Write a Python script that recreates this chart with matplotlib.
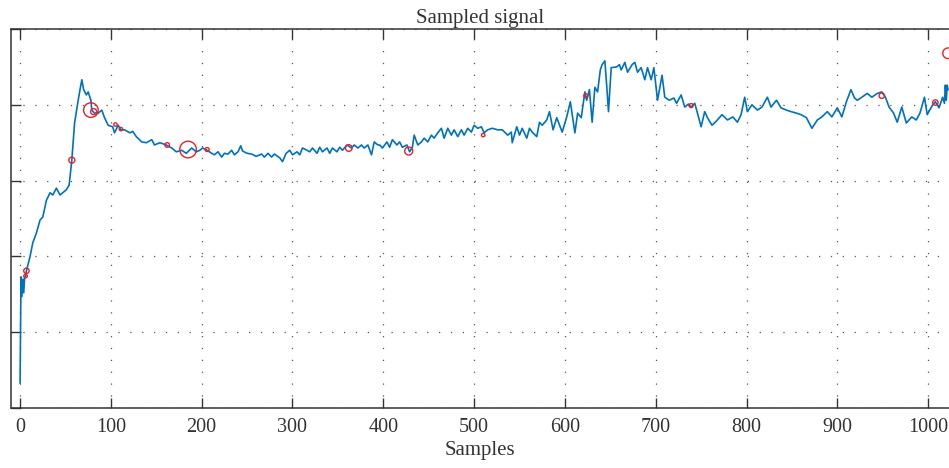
import numpy as np
import matplotlib.pyplot as plt

# sampled signal, sample index / amplitude, in three stretches
head_idx = [0, 1, 2, 3, 4, 5, 6, 7, 11, 14, 18, 22, 25, 29, 33, 36, 40, 44, 47, 51, 54,
            57, 60, 64, 66, 68, 70, 73, 75, 78, 79, 82, 86, 90, 93, 97, 102, 104, 108, 111,
            115, 121, 124, 128, 134, 139, 145, 148, 154, 161, 167, 172, 178, 183, 189, 194]
head_val = [0.33, 1.73, 1.47, 1.70, 1.52, 1.72, 1.74, 1.81, 2.00, 2.18, 2.31, 2.48, 2.52,
            2.74, 2.84, 2.81, 2.90, 2.81, 2.84, 2.88, 2.94, 3.27, 3.76, 4.06, 4.20, 4.33,
            4.20, 4.13, 4.17, 4.06, 3.93, 3.89, 3.89, 3.93, 3.83, 3.73, 3.71, 3.63, 3.73,
            3.67, 3.67, 3.63, 3.65, 3.58, 3.51, 3.50, 3.54, 3.47, 3.50, 3.47, 3.43, 3.38,
            3.40, 3.36, 3.43, 3.38]

mid_idx = [198, 201, 206, 211, 214, 218, 222, 225, 229, 233,
           236, 240, 243, 245, 250, 255, 260, 266, 269, 273,
           277, 280, 286, 289, 293, 297, 300, 305, 308, 311,
           316, 319, 322, 327, 330, 333, 338, 341, 344, 349,
           352, 355, 360, 365, 368, 372, 376, 379, 383, 387,
           390, 394, 396, 399, 404, 407, 410, 415, 418, 421,
           426, 429, 432, 434, 438, 442, 445, 449, 453, 456,
           460, 464, 467, 471, 475, 478, 482, 486, 489, 493,
           497, 500, 504, 508, 511, 515, 520, 526, 531, 537,
           541, 542, 547, 550, 553, 558, 561, 564, 569, 572,
           575, 580, 583, 587, 591]
mid_val = [3.40, 3.43, 3.40, 3.36, 3.34, 3.38, 3.31, 3.36, 3.35, 3.40,
           3.34, 3.38, 3.46, 3.39, 3.36, 3.35, 3.32, 3.35, 3.31, 3.36,
           3.31, 3.35, 3.30, 3.25, 3.36, 3.40, 3.34, 3.38, 3.34, 3.43,
           3.40, 3.38, 3.43, 3.36, 3.44, 3.38, 3.43, 3.36, 3.43, 3.38,
           3.44, 3.40, 3.47, 3.43, 3.47, 3.43, 3.47, 3.43, 3.47, 3.34,
           3.51, 3.47, 3.47, 3.43, 3.51, 3.44, 3.54, 3.47, 3.51, 3.44,
           3.47, 3.38, 3.44, 3.60, 3.47, 3.51, 3.56, 3.51, 3.60, 3.56,
           3.63, 3.69, 3.56, 3.69, 3.60, 3.67, 3.58, 3.67, 3.60, 3.69,
           3.64, 3.73, 3.69, 3.71, 3.63, 3.67, 3.69, 3.67, 3.67, 3.60,
           3.64, 3.50, 3.71, 3.60, 3.69, 3.56, 3.69, 3.64, 3.58, 3.77,
           3.73, 3.80, 3.91, 3.67, 3.83]

tail_idx = [597, 602, 606, 611, 614, 618, 622, 624, 627, 630,
            633, 636, 639, 641, 644, 646, 648, 651, 657, 660,
            662, 666, 669, 674, 677, 680, 684, 688, 691, 695,
            698, 702, 707, 710, 715, 720, 723, 728, 732, 736,
            739, 743, 746, 750, 754, 757, 762, 768, 773, 779,
            785, 790, 794, 798, 801, 806, 812, 817, 823, 827,
            833, 838, 844, 849, 855, 860, 866, 872, 878, 883,
            889, 894, 900, 905, 910, 915, 919, 922, 927, 933,
            938, 944, 949, 953, 957, 962, 966, 971, 976, 982,
            987, 991, 996, 999, 1005, 1008, 1012, 1016, 1018, 1019,
            1020, 1021, 1022]
tail_val = [3.64, 3.84, 4.04, 3.63, 3.89, 3.83, 4.17, 4.06, 4.20, 3.77,
            4.23, 4.17, 4.46, 4.53, 4.58, 4.26, 3.91, 4.49, 4.50, 4.53,
            4.46, 4.56, 4.43, 4.53, 4.56, 4.43, 4.49, 4.33, 4.49, 4.33,
            4.49, 4.06, 4.39, 4.10, 4.06, 4.09, 4.02, 4.13, 3.97, 4.01,
            3.97, 4.02, 3.89, 3.71, 3.91, 3.83, 3.73, 3.80, 3.87, 3.80,
            3.84, 3.77, 3.87, 4.10, 3.91, 4.00, 3.93, 3.97, 4.10, 3.97,
            4.06, 3.96, 3.93, 3.91, 3.89, 3.87, 3.83, 3.69, 3.80, 3.84,
            3.91, 3.84, 3.96, 3.84, 4.04, 4.20, 4.09, 4.06, 4.10, 4.15,
            4.10, 4.15, 4.17, 4.10, 3.97, 3.89, 3.77, 3.97, 3.76, 3.84,
            3.80, 3.89, 4.10, 3.87, 4.00, 4.04, 3.96, 4.10, 4.02, 4.26,
            4.06, 4.26, 4.20]

# red circles: position, amplitude, radius (px)
circle_idx = [6, 7, 57, 78, 81, 105, 111, 162, 185, 206, 362, 428, 510, 623, 739, 949, 1008, 1022]
circle_val = [1.74, 1.81, 3.27, 3.93, 3.91, 3.74, 3.68, 3.47, 3.41, 3.41, 3.43, 3.39, 3.60,
              4.12, 3.99, 4.12, 4.03, 4.68]
circle_r = [1.8, 2.7, 3.0, 7.3, 3.0, 1.7, 1.7, 2.3, 8.3, 2.0, 3.3, 4.0, 1.7, 2.0, 2.0, 2.7, 2.7, 5.3]

x_ticks = [0, 100, 200, 300, 400, 500, 600, 700, 800, 900, 1000]
y_ticks = [0, 1, 2, 3, 4, 5]

samples = head_idx + mid_idx + tail_idx
signal = head_val + mid_val + tail_val

plt.rcParams["font.family"] = ["Liberation Serif", "DejaVu Serif"]
ink = "#333333"

fig = plt.figure(figsize=(9.49, 4.68), dpi=100)
ax = fig.add_axes([11 / 949, 60 / 468, 1 - 11 / 949, 379 / 468])

ax.plot(samples, signal, color="#0072BD", linewidth=1.2, zorder=3)
sizes = [(2 * r * 0.72) ** 2 for r in circle_r]
ax.scatter(circle_idx, circle_val, s=sizes, facecolors="none", edgecolors="#E8202A",
           linewidths=1.0, zorder=4, clip_on=False)

ax.set_xlim(-10, 1023)
ax.set_ylim(0, 5)
ax.set_xticks(x_ticks)
ax.set_yticks(y_ticks)
ax.tick_params(axis="x", direction="in", top=True, length=7, width=1, colors=ink,
               labelsize=14.5, pad=7)
ax.tick_params(axis="y", direction="in", length=7, width=1, colors=ink, labelleft=False)
ax.grid(True, color="#555555", linestyle=(0, (1, 8.5)), linewidth=0.9)

for side in ["left", "top", "bottom"]:
    ax.spines[side].set_color(ink)
    ax.spines[side].set_linewidth(1.1)
ax.spines["right"].set_visible(False)

ax.set_title("Sampled signal", fontsize=15, color=ink, pad=4)
ax.set_xlabel("Samples", fontsize=15, color=ink, labelpad=3)

fig.savefig("out.png", dpi=100)
